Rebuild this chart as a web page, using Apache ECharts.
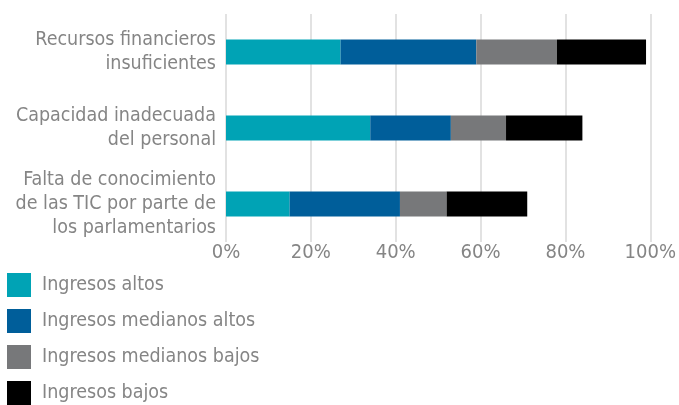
<!DOCTYPE html>
<html>
<head>
<meta charset="utf-8">
<script src="https://cdn.jsdelivr.net/npm/echarts@6/dist/echarts.min.js"></script>
<style>
  html, body { margin: 0; padding: 0; background: #fff; }
  #chart { width: 679px; height: 405px; }
</style>
</head>
<body>
<div id="chart"></div>
<script>
// categories (top to bottom)
const categories = [
  'Recursos financieros\ninsuficientes',
  'Capacidad inadecuada\ndel personal',
  'Falta de conocimiento\nde las TIC por parte de\nlos parlamentarios'
];
const seriesNames = ['Ingresos altos', 'Ingresos medianos altos', 'Ingresos medianos bajos', 'Ingresos bajos'];
// values in %
const altos = [27, 34, 15];
const medAltos = [32, 19, 26];
const medBajos = [19, 13, 11];
const bajos = [21, 18, 19];
const colors = ['#00a3b5', '#005e9a', '#77787a', '#000000'];

const font = '"Liberation Sans Narrow", "DejaVu Sans Condensed", "Roboto", sans-serif';
const textColor = '#858585';

const chart = echarts.init(document.getElementById('chart'));
const data = [altos, medAltos, medBajos, bajos];

chart.setOption({
  animation: false,
  textStyle: { fontFamily: font },
  grid: { left: 226, right: 27, top: 14, height: 228 },
  xAxis: {
    type: 'value',
    min: 0,
    max: 100,
    interval: 20,
    axisLabel: {
      formatter: '{value}%',
      color: textColor,
      fontSize: 20,
      fontFamily: font,
      margin: 1
    },
    axisLine: { show: false },
    axisTick: { show: false },
    splitLine: { lineStyle: { color: '#d9d9d9', width: 1.5 } }
  },
  yAxis: {
    type: 'category',
    inverse: true,
    data: categories,
    axisLine: { show: false },
    axisTick: { show: false },
    axisLabel: {
      color: textColor,
      fontSize: 19.5,
      lineHeight: 24,
      fontFamily: font,
      align: 'right',
      margin: 10
    }
  },
  legend: {
    orient: 'vertical',
    left: 7,
    top: 273,
    padding: 0,
    itemWidth: 24,
    itemHeight: 24,
    itemGap: 12,
    icon: 'rect',
    data: seriesNames,
    textStyle: { color: textColor, fontSize: 19.5, fontFamily: font, padding: [0, 0, 0, 6] }
  },
  series: seriesNames.map((name, i) => ({
    name: name,
    type: 'bar',
    stack: 'total',
    barWidth: 25,
    data: data[i],
    itemStyle: { color: colors[i] }
  }))
});
</script>
</body>
</html>
